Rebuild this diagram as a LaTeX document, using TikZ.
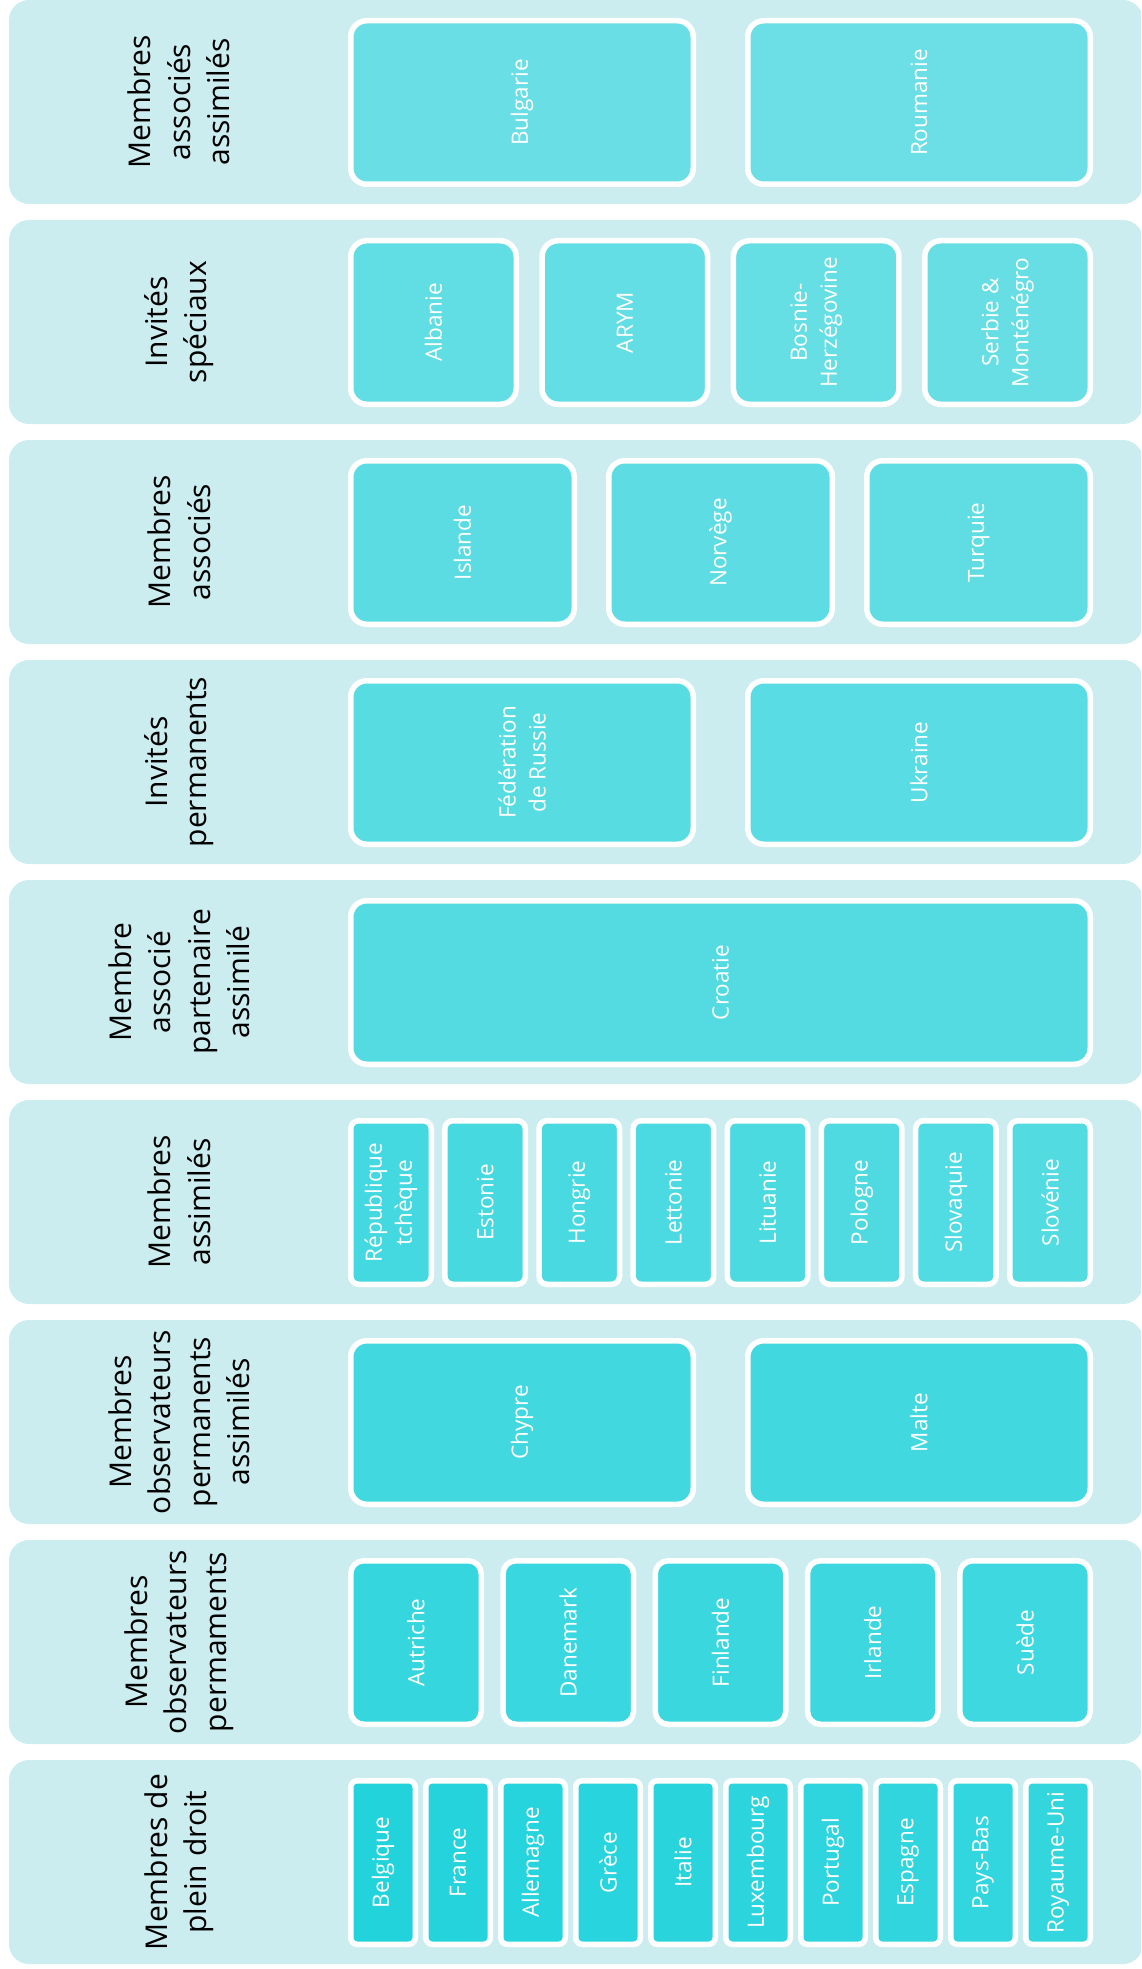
\documentclass[tikz,border=0pt]{standalone}
\usepackage{fontspec}
\setmainfont{Open Sans}
\usepackage{tikz}
\usepackage{xcolor}
\definecolor{BandCyan}{HTML}{CCEDEF}
\definecolor{BoxDark}{HTML}{22D3DC}
\definecolor{BoxLight}{HTML}{6BDFE5}

\begin{document}
\begin{tikzpicture}[
  x=1pt, y=-1pt,
  band/.style={rectangle, fill=BandCyan, rounded corners=20pt, minimum width=1134pt,
    minimum height=204pt, inner sep=0pt},
  grp/.style={rotate=90, align=center, inner sep=0pt, text=black,
    font=\fontsize{30}{39.5}\selectfont},
  cell/.style={rectangle, rotate=90, draw=white, line width=5.5pt, minimum width=163.5pt,
    inner sep=0pt, align=center, text=white, font=\fontsize{22.5}{30}\selectfont},
  half/.style={cell, minimum height=342.5pt, rounded corners=16pt},
  third/.style={cell, minimum height=223.5pt, rounded corners=16pt},
  quarter/.style={cell, minimum height=165.5pt, rounded corners=16pt},
  fifth/.style={cell, minimum height=130.5pt, rounded corners=13pt},
  eighth/.style={cell, minimum height=80.5pt, rounded corners=8pt},
  tenth/.style={cell, minimum height=64.5pt, rounded corners=6.5pt},
  whole/.style={cell, minimum height=739.5pt, rounded corners=16pt}
]
  \path[use as bounding box] (0,0) rectangle (1141,1969);
  \clip (0,0) rectangle (1141,1969);

  % bands
  \node[band] (b1) at (576,102)  {};
  \node[band] (b2) at (576,322)  {};
  \node[band] (b3) at (576,542)  {};
  \node[band] (b4) at (576,762)  {};
  \node[band] (b5) at (576,982)  {};
  \node[band] (b6) at (576,1202) {};
  \node[band] (b7) at (576,1422) {};
  \node[band] (b8) at (576,1642) {};
  \node[band] (b9) at (576,1862) {};

  % group names
  \node[grp] (g1) at (179,102)  {Membres\\associés\\assimilés};
  \node[grp] (g2) at (179,322)  {Invités\\spéciaux};
  \node[grp] (g3) at (179,542)  {Membres\\associés};
  \node[grp] (g4) at (179,762)  {Invités\\permanents};
  \node[grp] (g5) at (179,982)  {Membre\\associé\\partenaire\\assimilé};
  \node[grp] (g6) at (179,1202) {Membres\\assimilés};
  \node[grp] (g7) at (179,1422) {Membres\\observateurs\\permanents\\assimilés};
  \node[grp] (g8) at (179,1642) {Membres\\observateurs\\permaments};
  \node[grp] (g9) at (179,1862) {Membres de\\plein droit};

  % row 1
  \node[half, fill=BoxLight!97!BoxDark]  (bulgarie) at (522,102.5) {Bulgarie};
  \node[half, fill=BoxLight!100!BoxDark] (roumanie) at (919,102.5) {Roumanie};

  % row 2
  \node[quarter, fill=BoxLight!86!BoxDark] (albanie) at (433.5,322.5)  {Albanie};
  \node[quarter, fill=BoxLight!89!BoxDark] (arym)    at (624.8,322.5)  {ARYM};
  \node[quarter, fill=BoxLight!92!BoxDark] (bosnie)  at (816.2,322.5)  {Bosnie-\\Herzégovine};
  \node[quarter, fill=BoxLight!94!BoxDark] (serbie)  at (1007.5,322.5) {Serbie \&\\Monténégro};

  % row 3
  \node[third, fill=BoxLight!78!BoxDark] (islande) at (462.5,542.5) {Islande};
  \node[third, fill=BoxLight!81!BoxDark] (norvege) at (720.5,542.5) {Norvège};
  \node[third, fill=BoxLight!83!BoxDark] (turquie) at (978.5,542.5) {Turquie};

  % row 4
  \node[half, fill=BoxLight!72!BoxDark] (russie)  at (522,762.5) {Fédération\\de Russie};
  \node[half, fill=BoxLight!75!BoxDark] (ukraine) at (919,762.5) {Ukraine};

  % row 5
  \node[whole, fill=BoxLight!69!BoxDark] (croatie) at (720.5,982.5) {Croatie};

  % row 6
  \node[eighth, fill=BoxLight!47!BoxDark] (tcheque)   at (391,1202.5)    {République\\tchèque};
  \node[eighth, fill=BoxLight!50!BoxDark] (estonie)   at (485.1,1202.5)  {Estonie};
  \node[eighth, fill=BoxLight!53!BoxDark] (hongrie)   at (579.3,1202.5)  {Hongrie};
  \node[eighth, fill=BoxLight!56!BoxDark] (lettonie)  at (673.4,1202.5)  {Lettonie};
  \node[eighth, fill=BoxLight!58!BoxDark] (lituanie)  at (767.6,1202.5)  {Lituanie};
  \node[eighth, fill=BoxLight!61!BoxDark] (pologne)   at (861.7,1202.5)  {Pologne};
  \node[eighth, fill=BoxLight!64!BoxDark] (slovaquie) at (955.9,1202.5)  {Slovaquie};
  \node[eighth, fill=BoxLight!67!BoxDark] (slovenie)  at (1050,1202.5)   {Slovénie};

  % row 7
  \node[half, fill=BoxLight!42!BoxDark] (chypre) at (522,1422.5) {Chypre};
  \node[half, fill=BoxLight!44!BoxDark] (malte)  at (919,1422.5) {Malte};

  % row 8
  \node[fifth, fill=BoxLight!28!BoxDark] (autriche) at (416,1642.5)    {Autriche};
  \node[fifth, fill=BoxLight!31!BoxDark] (danemark) at (568.25,1642.5) {Danemark};
  \node[fifth, fill=BoxLight!33!BoxDark] (finlande) at (720.5,1642.5)  {Finlande};
  \node[fifth, fill=BoxLight!36!BoxDark] (irlande)  at (872.75,1642.5) {Irlande};
  \node[fifth, fill=BoxLight!39!BoxDark] (suede)    at (1025,1642.5)   {Suède};

  % row 9
  \node[tenth, fill=BoxLight!0!BoxDark]  (belgique)   at (383,1862.5)  {Belgique};
  \node[tenth, fill=BoxLight!3!BoxDark]  (france)     at (458,1862.5)  {France};
  \node[tenth, fill=BoxLight!6!BoxDark]  (allemagne)  at (533,1862.5)  {Allemagne};
  \node[tenth, fill=BoxLight!8!BoxDark]  (grece)      at (608,1862.5)  {Grèce};
  \node[tenth, fill=BoxLight!11!BoxDark] (italie)     at (683,1862.5)  {Italie};
  \node[tenth, fill=BoxLight!14!BoxDark] (luxembourg) at (758,1862.5)  {Luxembourg};
  \node[tenth, fill=BoxLight!17!BoxDark] (portugal)   at (833,1862.5)  {Portugal};
  \node[tenth, fill=BoxLight!19!BoxDark] (espagne)    at (908,1862.5)  {Espagne};
  \node[tenth, fill=BoxLight!22!BoxDark] (paysbas)    at (983,1862.5)  {Pays-Bas};
  \node[tenth, fill=BoxLight!25!BoxDark] (ru)         at (1058,1862.5) {Royaume-Uni};
\end{tikzpicture}
\end{document}
